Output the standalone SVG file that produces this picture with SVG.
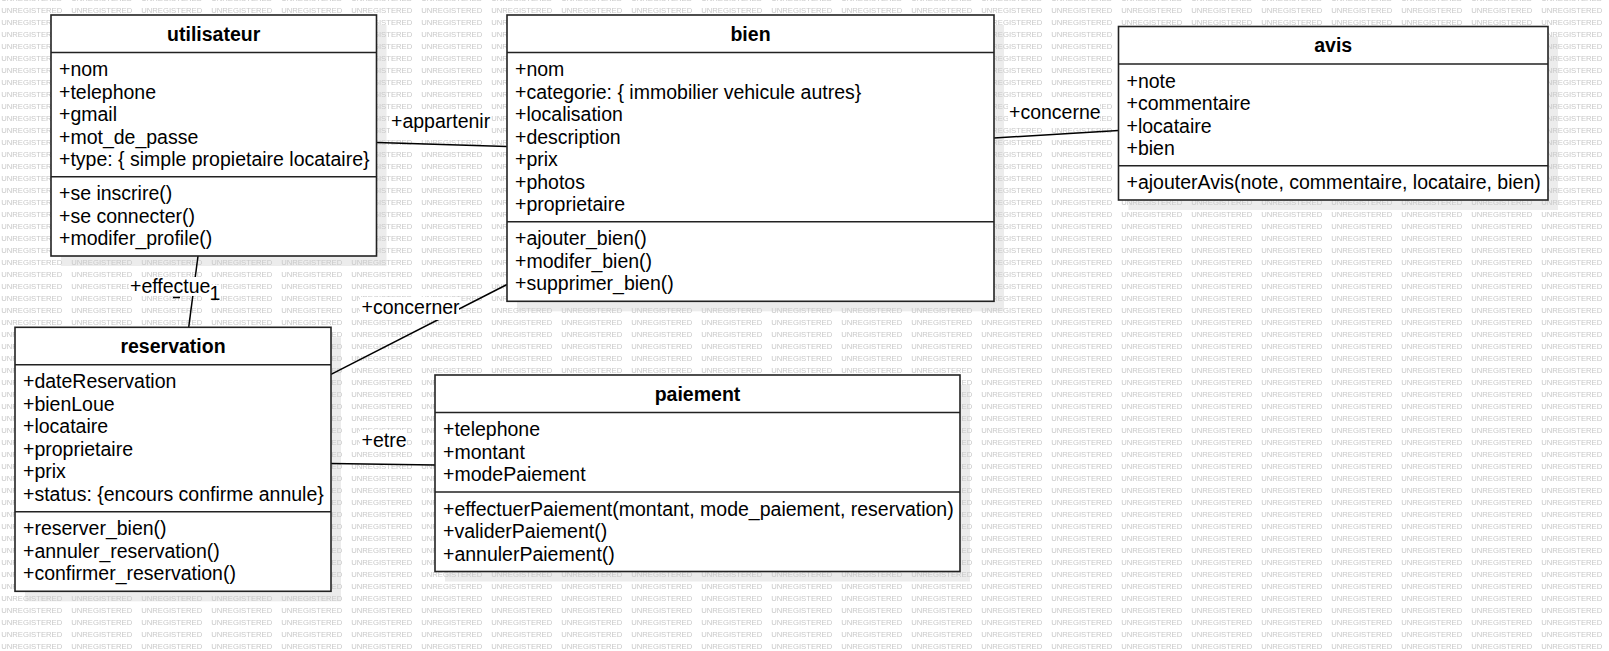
<svg xmlns="http://www.w3.org/2000/svg" width="1609" height="651" viewBox="0 0 1609 651">
<style>
.box{fill:#fff;stroke:#222;stroke-width:1.6}
.sep{stroke:#222;stroke-width:1.6}
.shadow{fill:#ececec}
.t{font-family:"Liberation Sans",Arial,sans-serif;font-size:19.5px;fill:#000}
.title{font-family:"Liberation Sans",Arial,sans-serif;font-size:19.5px;font-weight:bold;fill:#000;text-anchor:middle}
.edge{stroke:#000;stroke-width:1.5;fill:none}
.lbg{fill:#fff}
.wm{font-family:"Liberation Sans",Arial,sans-serif;font-size:7.7px;fill:#c8c8c8}
</style>
<defs>
<pattern id="wm" patternUnits="userSpaceOnUse" x="0" y="4" width="70" height="12">
<text class="wm" x="1.2" y="8.5">UNREGISTERED</text>
</pattern>
</defs>
<rect width="1609" height="651" fill="#fff"/>
<g id="shadows">
<rect class="shadow" x="61" y="25" width="325.5" height="241"/>
<rect class="shadow" x="517" y="25" width="487" height="286.3"/>
<rect class="shadow" x="1128.5" y="36.5" width="429.5" height="173.5"/>
<rect class="shadow" x="25" y="337.3" width="316" height="264"/>
<rect class="shadow" x="445" y="385" width="525" height="196.5"/>
</g>
<rect width="1609" height="651" fill="url(#wm)"/>
<g id="connectors">
<line class="edge" x1="377" y1="142.5" x2="507" y2="146.5"/>
<line class="edge" x1="994" y1="138" x2="1118.5" y2="130.5"/>
<line class="edge" x1="198" y1="256" x2="188.7" y2="327.3"/>
<line class="edge" x1="331" y1="374.3" x2="507" y2="284.5"/>
<line class="edge" x1="331" y1="463.5" x2="435" y2="465"/>
<rect class="lbg" x="390" y="111" width="101" height="22"/>
<text class="t" x="391" y="127.5">+appartenir</text>
<rect class="lbg" x="1008" y="102" width="92" height="22"/>
<text class="t" x="1009" y="118.5">+concerne</text>
<rect class="lbg" x="129" y="277" width="80" height="19"/>
<rect class="lbg" x="209" y="285" width="12" height="15"/>
<line class="edge" x1="173" y1="297.5" x2="180" y2="297.5"/>
<text class="t" x="130" y="292.7">+effectue</text>
<text class="t" x="209.5" y="299.5">1</text>
<rect class="lbg" x="360" y="297" width="99" height="23"/>
<text class="t" x="361.5" y="314">+concerner</text>
<rect class="lbg" x="360" y="430" width="47" height="21"/>
<text class="t" x="361.5" y="446.5">+etre</text>
</g>
<g id="utilisateur">
<rect class="box" x="51" y="15" width="325.5" height="241"/>
<line class="sep" x1="51" y1="52.5" x2="376.5" y2="52.5"/>
<line class="sep" x1="51" y1="176.7" x2="376.5" y2="176.7"/>
<text class="title" x="213.7" y="40.7">utilisateur</text>
<text class="t" x="59" y="76">+nom</text>
<text class="t" x="59" y="98.5">+telephone</text>
<text class="t" x="59" y="121">+gmail</text>
<text class="t" x="59" y="143.5">+mot_de_passe</text>
<text class="t" x="59" y="166">+type: { simple propietaire locataire}</text>
<text class="t" x="59" y="200.2">+se inscrire()</text>
<text class="t" x="59" y="222.7">+se connecter()</text>
<text class="t" x="59" y="245.2">+modifer_profile()</text>
</g>
<g id="bien">
<rect class="box" x="507" y="15" width="487" height="286.3"/>
<line class="sep" x1="507" y1="52.5" x2="994" y2="52.5"/>
<line class="sep" x1="507" y1="221.8" x2="994" y2="221.8"/>
<text class="title" x="750.5" y="40.7">bien</text>
<text class="t" x="515" y="76">+nom</text>
<text class="t" x="515" y="98.5">+categorie: { immobilier vehicule autres}</text>
<text class="t" x="515" y="121">+localisation</text>
<text class="t" x="515" y="143.5">+description</text>
<text class="t" x="515" y="166">+prix</text>
<text class="t" x="515" y="188.5">+photos</text>
<text class="t" x="515" y="211">+proprietaire</text>
<text class="t" x="515" y="245.3">+ajouter_bien()</text>
<text class="t" x="515" y="267.8">+modifer_bien()</text>
<text class="t" x="515" y="290.3">+supprimer_bien()</text>
</g>
<g id="avis">
<rect class="box" x="1118.5" y="26.5" width="429.5" height="173.5"/>
<line class="sep" x1="1118.5" y1="64" x2="1548" y2="64"/>
<line class="sep" x1="1118.5" y1="165.8" x2="1548" y2="165.8"/>
<text class="title" x="1333.2" y="52.2">avis</text>
<text class="t" x="1126.5" y="87.5">+note</text>
<text class="t" x="1126.5" y="110">+commentaire</text>
<text class="t" x="1126.5" y="132.5">+locataire</text>
<text class="t" x="1126.5" y="155">+bien</text>
<text class="t" x="1126.5" y="189.3">+ajouterAvis(note, commentaire, locataire, bien)</text>
</g>
<g id="reservation">
<rect class="box" x="15" y="327.3" width="316" height="264"/>
<line class="sep" x1="15" y1="364.8" x2="331" y2="364.8"/>
<line class="sep" x1="15" y1="511.8" x2="331" y2="511.8"/>
<text class="title" x="173" y="353">reservation</text>
<text class="t" x="23" y="388.3">+dateReservation</text>
<text class="t" x="23" y="410.8">+bienLoue</text>
<text class="t" x="23" y="433.3">+locataire</text>
<text class="t" x="23" y="455.8">+proprietaire</text>
<text class="t" x="23" y="478.3">+prix</text>
<text class="t" x="23" y="500.8">+status: {encours confirme annule}</text>
<text class="t" x="23" y="535.3">+reserver_bien()</text>
<text class="t" x="23" y="557.8">+annuler_reservation()</text>
<text class="t" x="23" y="580.3">+confirmer_reservation()</text>
</g>
<g id="paiement">
<rect class="box" x="435" y="375" width="525" height="196.5"/>
<line class="sep" x1="435" y1="412.5" x2="960" y2="412.5"/>
<line class="sep" x1="435" y1="492" x2="960" y2="492"/>
<text class="title" x="697.5" y="400.7">paiement</text>
<text class="t" x="443" y="436">+telephone</text>
<text class="t" x="443" y="458.5">+montant</text>
<text class="t" x="443" y="481">+modePaiement</text>
<text class="t" x="443" y="515.5">+effectuerPaiement(montant, mode_paiement, reservation)</text>
<text class="t" x="443" y="538">+validerPaiement()</text>
<text class="t" x="443" y="560.5">+annulerPaiement()</text>
</g>
</svg>
